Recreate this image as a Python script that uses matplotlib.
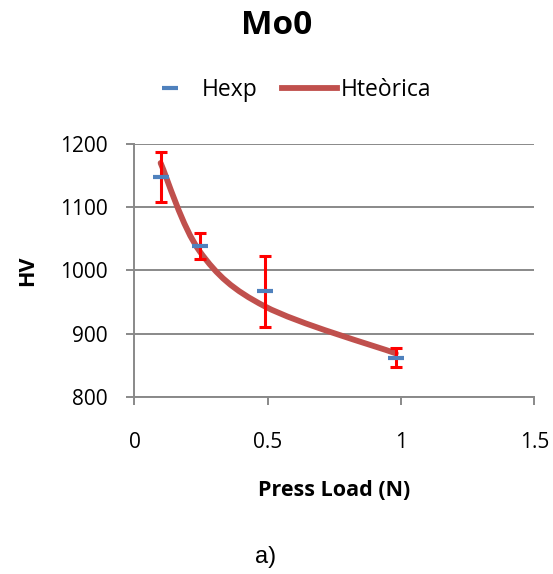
import numpy as np
import matplotlib.pyplot as plt
from matplotlib.path import Path
from matplotlib.patches import PathPatch
from matplotlib.lines import Line2D

# press loads (N) and hardness values
load = [0.098, 0.245, 0.49, 0.98]
h_exp = [1148, 1039, 967, 862]
h_err = [39, 21, 56, 15]
h_teo = [1170, 1030, 943, 869]

plt.rcParams['font.family'] = ['Open Sans', 'DejaVu Sans']

grey = "#898989"
blue = "#4F81BD"
red_line = "#C0504D"

fig = plt.figure(figsize=(5.53, 5.74), dpi=100)
ax = fig.add_axes([0.2432, 0.3084, 0.7233, 0.4407])

# smoothed theoretical curve (Excel-like bezier through the points)
x = np.array(load, dtype=float)
y = np.array(h_teo, dtype=float)
n = len(x)
verts = [(x[0], y[0])]
codes = [Path.MOVETO]
for i in range(n - 1):
    p0 = np.array([x[max(i - 1, 0)], y[max(i - 1, 0)]])
    p1 = np.array([x[i], y[i]])
    p2 = np.array([x[i + 1], y[i + 1]])
    p3 = np.array([x[min(i + 2, n - 1)], y[min(i + 2, n - 1)]])
    c1 = p1 + (p2 - p0) / 6
    c2 = p2 - (p3 - p1) / 6
    verts += [tuple(c1), tuple(c2), tuple(p2)]
    codes += [Path.CURVE4] * 3
curve = PathPatch(Path(verts, codes), facecolor="none", edgecolor=red_line,
                  lw=4.2, capstyle="round", zorder=3)
ax.add_patch(curve)

ax.errorbar(load, h_exp, yerr=h_err, fmt="none", ecolor="red", elinewidth=2.2,
            capsize=4.6, capthick=2.2, zorder=4)
ax.plot(load, h_exp, linestyle="none", marker="_", markersize=12,
        markeredgewidth=3, color=blue, zorder=5)

ax.set_xlim(0, 1.5)
ax.set_ylim(800, 1200)
ax.set_xticks([0, 0.5, 1, 1.5])
ax.set_xticklabels(["0", "0.5", "1", "1.5"])
ax.set_yticks([800, 900, 1000, 1100, 1200])
ax.grid(axis="y", color=grey, lw=1.4)
ax.set_axisbelow(True)
for s in ["top", "right"]:
    ax.spines[s].set_visible(False)
for s in ["left", "bottom"]:
    ax.spines[s].set_color(grey)
    ax.spines[s].set_linewidth(1.4)
ax.tick_params(axis="both", colors=grey, length=6, width=1.4, labelsize=15,
               labelcolor="black")
ax.tick_params(axis="y", pad=13)
ax.tick_params(axis="x", pad=19)

ax.set_xlabel("Press Load (N)", fontsize=15.5, fontweight="bold", labelpad=20)
ax.set_ylabel("HV", fontsize=15.5, fontweight="bold", labelpad=16)

fig.text(0.5, 1 - 25 / 574, "Mo0", ha="center", va="center", fontsize=24,
         fontweight="bold")

handles = [Line2D([], [], linestyle="none", marker="_", markersize=12,
                  markeredgewidth=3, color=blue),
           Line2D([], [], color=red_line, lw=4.2)]
fig.legend(handles, ["Hexp", "Hteòrica"], loc="center",
           bbox_to_anchor=(287 / 553, 1 - 90 / 574), ncol=2, frameon=False,
           fontsize=16.5, handlelength=2.4, handletextpad=0.15,
           columnspacing=1.1)

fig.text(266 / 553, 1 - 557 / 574, "a)", ha="center", va="center",
         fontsize=17, family=["Liberation Sans"])

fig.savefig("out.png", dpi=100)
